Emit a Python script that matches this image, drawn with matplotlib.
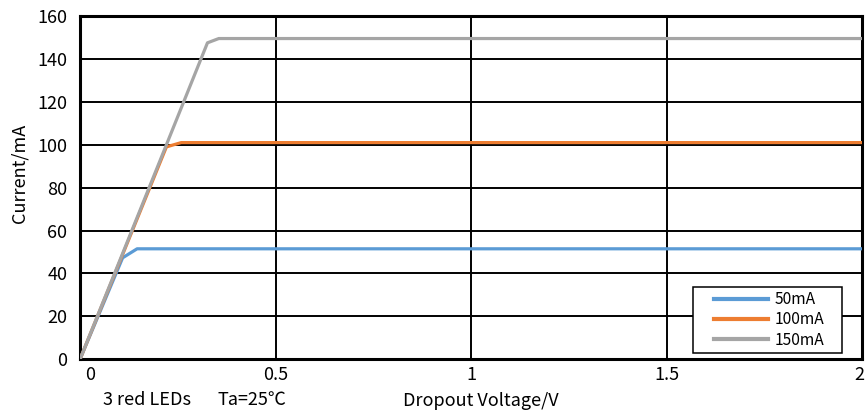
import matplotlib.pyplot as plt
import matplotlib.transforms as mtransforms
from matplotlib.patches import Rectangle

plt.rcParams['font.family'] = ['Noto Sans CJK SC', 'DejaVu Sans']

# dropout voltage (V) vs output current (mA)
v_50 = [0.0, 0.109, 0.146, 2.0]
i_50 = [0.0, 47.3, 51.5, 51.5]
v_100 = [0.0, 0.221, 0.259, 2.0]
i_100 = [0.0, 99.0, 101.0, 101.0]
v_150 = [0.0, 0.326, 0.355, 2.0]
i_150 = [0.0, 147.5, 149.5, 149.5]

labels = ['50mA', '100mA', '150mA']
colors = ['#5b9bd5', '#ed7d31', '#a5a5a5']

xticks = [0, 0.5, 1, 1.5, 2]
xtick_labels = ['0', '0.5', '1', '1.5', '2']
yticks = list(range(0, 161, 20))

W, H = 865, 417
fig = plt.figure(figsize=(W / 100, H / 100), dpi=100)
ax = fig.add_axes([80 / W, 1 - 359.3 / H, (862 - 80) / W, (359.3 - 16) / H])

ax.plot(v_50, i_50, color=colors[0], lw=2.3, label=labels[0], zorder=3)
ax.plot(v_100, i_100, color=colors[1], lw=2.3, label=labels[1], zorder=3)
ax.plot(v_150, i_150, color=colors[2], lw=2.3, label=labels[2], zorder=4)

ax.set_xlim(0, 2)
ax.set_ylim(0, 160)
ax.set_xticks(xticks)
ax.set_xticklabels(xtick_labels)
ax.set_yticks(yticks)
ax.tick_params(length=0, labelsize=13)
ax.tick_params(axis='x', pad=5)
ax.tick_params(axis='y', pad=9)
ax.grid(True, color='black', lw=1.4)
ax.set_axisbelow(True)
for s in ax.spines.values():
    s.set_linewidth(2.2)

# the end labels sit a little inward in the original
xl = ax.get_xticklabels()
xl[0].set_transform(xl[0].get_transform() + mtransforms.ScaledTranslation(10 / 100, 0, fig.dpi_scale_trans))
xl[-1].set_transform(xl[-1].get_transform() + mtransforms.ScaledTranslation(-3 / 100, 0, fig.dpi_scale_trans))

fig.text(20 / W, 1 - 173 / H, 'Current/mA', rotation=90, ha='center', va='center', fontsize=13)
fig.text(481 / W, 1 - 401 / H, 'Dropout Voltage/V', ha='center', va='center', fontsize=13)
fig.text(103 / W, 1 - 400 / H, '3 red LEDs', ha='left', va='center', fontsize=13)
fig.text(218 / W, 1 - 400 / H, 'Ta=25℃', ha='left', va='center', fontsize=13)

# legend box
bx0, bx1 = (693 - 80) / 782, (842 - 80) / 782
by0, by1 = (359.3 - 353) / 343.3, (359.3 - 287) / 343.3
ax.add_patch(Rectangle((bx0, by0), bx1 - bx0, by1 - by0, transform=ax.transAxes,
                       facecolor='white', edgecolor='black', lw=1.1, zorder=5))
leg = ax.legend(loc='center', bbox_to_anchor=((bx0 + bx1) / 2 + 0.002, (by0 + by1) / 2),
                fontsize=11.2, frameon=False, handlelength=3.5, handletextpad=0.4,
                borderpad=0.2, labelspacing=0.2)
leg.set_zorder(6)
for ln in leg.get_lines():
    ln.set_linewidth(3)

fig.savefig('out.png', dpi=100)
